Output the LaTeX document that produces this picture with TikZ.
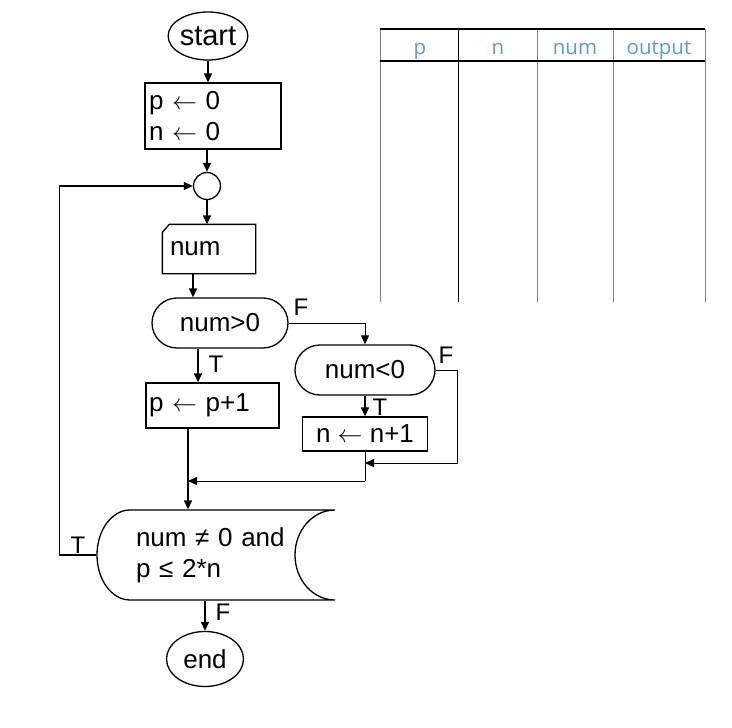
\documentclass[tikz,border=0pt]{standalone}
\usepackage{fontspec}
\setmainfont{Liberation Sans}
\newfontfamily\hdrfont{Open Sans}
\usetikzlibrary{arrows.meta,shapes.geometric,shapes.misc}
\definecolor{hdrblue}{RGB}{91,155,213}
\definecolor{rulegray}{RGB}{128,128,128}
\newcommand{\assign}{\ $\leftarrow$\ }
\begin{document}
\begin{tikzpicture}[x=1pt,y=-1pt,
  line width=1.3pt,
  flow/.style={font=\fontsize{26}{31}\selectfont},
  term/.style={flow,draw,ellipse,inner sep=0pt},
  procbox/.style={flow,draw,rectangle,inner sep=0pt},
  testbox/.style={flow,draw,rounded rectangle,inner sep=0pt},
  arr/.style={-{Triangle[length=9pt,width=8pt]}},
  lbl/.style={font=\fontsize{24}{26}\selectfont,inner sep=0pt},
  hdr/.style={font=\hdrfont\fontsize{20.5}{24}\selectfont,text=hdrblue,inner sep=0pt,anchor=base},
]
\useasboundingbox (0,0) rectangle (732,728);

% ---- flowchart nodes ----
\node[term,minimum width=79,minimum height=48,font=\fontsize{29}{30}\selectfont] (start) at (208,36) {start};
\node[procbox,minimum width=136,minimum height=66,text width=128,align=left] (init) at (213,116) {p\assign 0\\n\assign 0};
\node[draw,circle,minimum size=27,inner sep=0pt] (join) at (207,186) {};

% input box with a clipped corner
\node[flow,minimum width=92,minimum height=48,text width=78,align=left,inner sep=0pt] (num) at (209,249) {num};
\draw (num.south west) -- (num.south east) -- (num.north east) -- ([xshift=7pt]num.north west) -- ([yshift=-8pt]num.north west) -- cycle;

\node[testbox,minimum width=136,minimum height=50] (gt) at (220,323) {num>0};
\node[procbox,minimum width=133,minimum height=45,text width=127,align=left] (incp) at (212.5,405.5) {p\assign p+1};
\node[testbox,minimum width=140,minimum height=50] (lt) at (365,370) {num<0};
\node[procbox,minimum width=125,minimum height=34] (incn) at (365,434) {n\assign n+1};

% loop test
\node[flow,minimum width=238,minimum height=90,text width=160,align=left,inner sep=0pt] (cond) at (216,555) {num ≠ 0 and\\p ≤ 2*n};
\draw (130,510) -- (335,510) .. controls (313,510) and (295,530) .. (295,555)
      .. controls (295,580) and (313,600) .. (335,600) -- (130,600)
      .. controls (112,600) and (97,580) .. (97,555)
      .. controls (97,530) and (112,510) .. (130,510) -- cycle;

\node[term,minimum width=77,minimum height=55] (end) at (205,659) {end};

% ---- connectors ----
\draw[arr] (start.south) -- (start.south |- init.north);
\draw[arr] (join |- init.south) -- (join.north);
\draw[arr] (join.south) -- (join.south |- num.north);
\draw[arr] ([xshift=-16pt]num.south) -- ([xshift=-16pt]num.south |- gt.north);
\draw[arr] ([xshift=-22pt]gt.south) -- ([xshift=-22pt]gt.south |- incp.north);
\node[lbl] (t1) at (216,364) {T};
\draw[arr,line width=1pt] (gt.east) -| (lt.north);
\node[lbl] (f1) at (301,307) {F};
\draw[arr] (lt.south) -- (incn.north);
\node[lbl] (t2) at (380,407) {T};
\node[lbl] (f2) at (446,355) {F};

\coordinate (m1) at (365,463);
\coordinate (m2) at (365,481);
\coordinate (m3) at (188,481);
\draw[arr,line width=1pt] (lt.east) -- ++(22,0) |- (m1);
\draw[line width=1pt] (incn.south) -- (m2);
\draw[arr,line width=1pt] (m2) -- (m3);
\draw[arr] ([xshift=-24.5pt]incp.south) -- ([xshift=-24.5pt]incp.south |- cond.north);

\draw[arr] (cond.west) -- ++(-37,0) |- (join.west);
\node[lbl] (t3) at (78,545) {T};
\draw[arr] (end |- cond.south) -- (end.north);
\node[lbl] (f3) at (223,612) {F};

% ---- trace table ----
\draw[rulegray,line width=0.8pt] (380,29) -- (380,302);
\draw[rulegray,line width=0.8pt] (537,29) -- (537,302);
\draw[rulegray,line width=0.8pt] (613,29) -- (613,302);
\draw[rulegray,line width=0.8pt] (705,29) -- (705,302);
\draw[line width=1pt] (458,29) -- (458,302);
\draw[line width=1.2pt] (380,29) -- (705,29);
\draw[line width=1.2pt] (380,61) -- (705,61);
\node[hdr] (hp) at (420,54) {p};
\node[hdr] (hn) at (498,54) {n};
\node[hdr] (hnum) at (575,54) {num};
\node[hdr] (hout) at (659,54) {output};
\end{tikzpicture}
\end{document}
